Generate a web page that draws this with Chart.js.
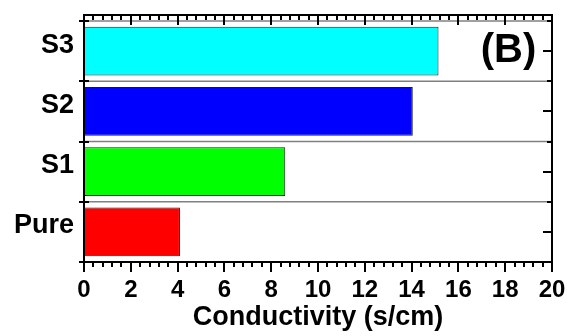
<!DOCTYPE html>
<html>
<head>
<meta charset="utf-8">
<script src="https://cdn.jsdelivr.net/npm/chart.js@4/dist/chart.umd.min.js"></script>
<style>
  html, body { margin: 0; padding: 0; background: #fff; }
  #wrap { width: 567px; height: 336px; }
</style>
</head>
<body>
<div id="wrap"><canvas id="c" width="567" height="336"></canvas></div>
<script>
const categories = ['Pure', 'S1', 'S2', 'S3'];
const conductivity = [4.1, 8.6, 14.05, 15.15];
const xTickMin = 0, xTickMax = 20, xMajorStep = 2, xMinorStep = 0.4;
const panelLabel = '(B)';
const xTitle = 'Conductivity (s/cm)';

Chart.defaults.font.family = '"Liberation Sans", Arial, sans-serif';
Chart.defaults.color = '#000';

const framePlugin = {
  id: 'frame',
  beforeDatasetsDraw(chart) {
    const ctx = chart.ctx, a = chart.chartArea;
    const ys = chart.scales.y;
    ctx.save();
    ctx.strokeStyle = '#808080';
    ctx.lineWidth = 1.5;
    for (let k = 1; k <= categories.length; k++) {
      const py = ys.getPixelForValue(k);
      ctx.beginPath(); ctx.moveTo(a.left, py); ctx.lineTo(a.right, py); ctx.stroke();
    }
    ctx.restore();
  },
  afterDraw(chart) {
    const ctx = chart.ctx, a = chart.chartArea;
    const xs = chart.scales.x, ys = chart.scales.y;
    ctx.save();
    ctx.strokeStyle = '#000';
    ctx.lineWidth = 2;
    ctx.lineCap = 'butt';
    ctx.strokeRect(a.left, a.top, a.right - a.left, a.bottom - a.top);
    const nMinor = Math.round((xTickMax - xTickMin) / xMinorStep);
    for (let i = 0; i <= nMinor; i++) {
      const v = xTickMin + i * xMinorStep;
      const major = Math.abs(v / xMajorStep - Math.round(v / xMajorStep)) < 1e-6;
      const px = Math.round(xs.getPixelForValue(v));
      const len = major ? 10 : 5;
      ctx.beginPath();
      ctx.moveTo(px, a.bottom); ctx.lineTo(px, a.bottom + len);
      ctx.moveTo(px, a.top); ctx.lineTo(px, a.top + len);
      ctx.stroke();
    }
    for (let k = 0; k <= categories.length; k++) {
      const py = Math.round(ys.getPixelForValue(k));
      ctx.beginPath();
      ctx.moveTo(a.left - 5, py); ctx.lineTo(a.left + 5, py);
      ctx.moveTo(a.right - 5, py); ctx.lineTo(a.right, py);
      ctx.stroke();
    }
    for (let k = 0; k < categories.length; k++) {
      const py = Math.round(ys.getPixelForValue(k + 0.5));
      ctx.beginPath();
      ctx.moveTo(a.right - 9, py); ctx.lineTo(a.right, py);
      ctx.stroke();
    }
    ctx.fillStyle = '#000';
    ctx.font = 'bold 40px "Liberation Sans", Arial, sans-serif';
    ctx.textAlign = 'center';
    ctx.textBaseline = 'middle';
    ctx.fillText(panelLabel, a.right - 43.5, a.top + 36);
    ctx.restore();
  }
};

new Chart(document.getElementById('c'), {
  type: 'bar',
  data: {
    datasets: [{
      data: conductivity.map((v, i) => ({ x: v, y: i + 0.5 })),
      backgroundColor: ['#FF0000', '#00FF00', '#0000FF', '#00FFFF'],
      borderColor: '#1a1a1a',
      borderWidth: 1,
      borderSkipped: false,
      barPercentage: 0.81,
      categoryPercentage: 1
    }]
  },
  options: {
    indexAxis: 'y',
    responsive: false,
    animation: false,
    events: [],
    layout: { padding: { top: 15, right: 15, left: 0, bottom: 0 } },
    plugins: { legend: { display: false }, tooltip: { enabled: false } },
    scales: {
      x: {
        type: 'linear',
        position: 'bottom',
        min: xTickMin, max: xTickMax,
        grid: { display: false, drawTicks: false },
        border: { display: false },
        ticks: {
          stepSize: xMajorStep, autoSkip: false, maxRotation: 0,
          padding: 14, color: '#000',
          font: { size: 24, weight: 'bold' }
        },
        title: {
          display: true, text: xTitle, color: '#000',
          font: { size: 27, weight: 'bold' },
          padding: { top: 0, bottom: 2 }
        },
        afterFit(s) { s.height = 74; s.paddingLeft = 0; s.paddingRight = 0; }
      },
      y: {
        type: 'linear',
        position: 'left',
        offset: false,
        min: 0, max: 4.1,
        grid: { display: false, drawTicks: false, offset: false },
        border: { display: false },
        afterBuildTicks(s) { s.ticks = categories.map((c, i) => ({ value: i + 0.5 })); },
        ticks: {
          callback: (v, i) => categories[i],
          padding: 10, labelOffset: -6, color: '#000',
          font: { size: 27, weight: 'bold' }
        },
        afterFit(s) { s.width = 84; s.paddingTop = 0; s.paddingBottom = 0; }
      }
    }
  },
  plugins: [framePlugin]
});
</script>
</body>
</html>
